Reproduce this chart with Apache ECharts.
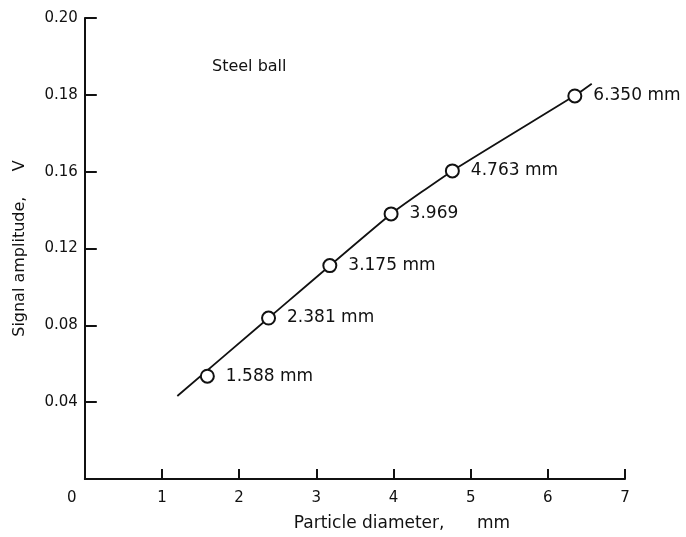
<!DOCTYPE html>
<html>
<head>
<meta charset="utf-8">
<script src="https://cdn.jsdelivr.net/npm/echarts@6/dist/echarts.min.js"></script>
<style>html,body{margin:0;padding:0;background:#fff}#c{width:686px;height:537px}</style>
</head>
<body>
<div id="c"></div>
<script>
// Particle diameters (mm) and signal amplitude read on the plotted (evenly spaced) axis
const diameters = [1.588, 2.381, 3.175, 3.969, 4.763, 6.350];
const amplitudes = [0.0535, 0.0838, 0.1111, 0.1380, 0.1604, 0.1994];
const pointLabels = ['1.588 mm', '2.381 mm', '3.175 mm', '3.969', '4.763 mm', '6.350 mm'];
// fitted curve, with its two free ends
const curveX = [1.199, 2.381, 3.969, 4.763, 6.350, 6.569];
const curveY = [0.0432, 0.0838, 0.1380, 0.1604, 0.1996, 0.2058];
// y tick labels as printed on the figure (evenly spaced ticks)
const yTickLabels = ['', '0.04', '0.08', '0.12', '0.16', '0.18', '0.20'];
const xTickLabels = ['0', '1', '2', '3', '4', '5', '6', '7'];

const FONT = 'DejaVu Sans';
const chart = echarts.init(document.getElementById('c'), null, {renderer: 'canvas'});
chart.setOption({
  animation: false,
  backgroundColor: '#fff',
  title: {
    text: 'Steel ball', left: 212, top: 59, padding: 0,
    textStyle: {fontFamily: FONT, fontSize: 16, fontWeight: 'normal', color: '#111'}
  },
  grid: {left: 84.8, right: 61, top: 18, bottom: 54, containLabel: false},
  xAxis: {
    type: 'value', min: 0, max: 7, interval: 1,
    name: 'Particle diameter,      mm', nameLocation: 'middle', nameGap: 36,
    nameTextStyle: {fontFamily: FONT, fontSize: 17, color: '#111', padding: [0, 0, 0, 94]},
    axisLine: {show: true, onZero: false, lineStyle: {color: '#111', width: 2}},
    axisTick: {show: true, inside: true, length: 10, lineStyle: {color: '#111', width: 2}},
    splitLine: {show: false},
    axisLabel: {
      margin: 12, fontFamily: FONT, fontSize: 15, color: '#111',
      formatter: v => { const i = Math.round(v); return i === 0 ? '{z|' + xTickLabels[0] + '}' : xTickLabels[i]; },
      rich: {z: {fontFamily: FONT, fontSize: 15, color: '#111', padding: [0, 26, 0, 0]}}
    }
  },
  yAxis: {
    type: 'value', min: 0, max: 0.24, interval: 0.04,
    name: 'Signal amplitude,     V', nameLocation: 'middle', nameGap: 57,
    nameTextStyle: {fontFamily: FONT, fontSize: 16, color: '#111'},
    axisLine: {show: true, onZero: false, lineStyle: {color: '#111', width: 2}},
    axisTick: {show: true, inside: true, length: 12, lineStyle: {color: '#111', width: 2}},
    splitLine: {show: false},
    axisLabel: {
      margin: 7, fontFamily: FONT, fontSize: 15, color: '#111',
      formatter: v => yTickLabels[Math.round(v / 0.04)]
    }
  },
  series: [
    {
      type: 'line', data: curveX.map((x, i) => [x, curveY[i]]),
      smooth: 0.15, showSymbol: false, symbol: 'none',
      lineStyle: {color: '#111', width: 1.8}, z: 2, silent: true
    },
    {
      type: 'scatter', data: diameters.map((x, i) => ({value: [x, amplitudes[i]], name: pointLabels[i]})),
      symbol: 'circle', symbolSize: 13,
      itemStyle: {color: '#fff', borderColor: '#111', borderWidth: 2, opacity: 1},
      label: {
        show: true, position: 'right', distance: 11,
        formatter: p => p.name,
        fontFamily: FONT, fontSize: 17, color: '#111'
      },
      z: 3
    }
  ]
});
</script>
</body>
</html>
